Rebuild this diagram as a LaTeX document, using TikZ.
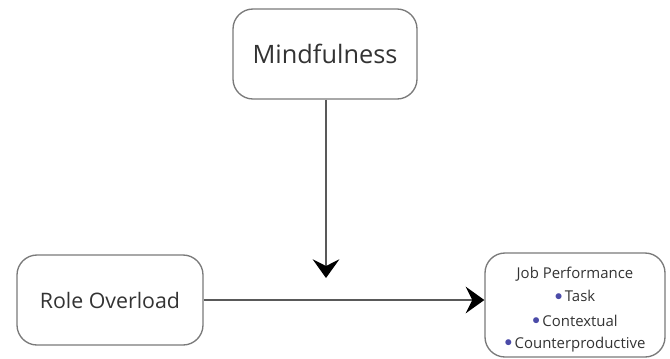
\documentclass[tikz,border=0pt]{standalone}
\usepackage{fontspec}
\setmainfont{Open Sans}
\usetikzlibrary{arrows.meta}

\definecolor{boxgray}{HTML}{7A7A7A}
\definecolor{dotblue}{HTML}{4B4BA8}
\newcommand{\dotitem}{{\color{dotblue}\raisebox{0.12em}{\scalebox{1.05}{$\bullet$}}}\,}

\begin{document}
\begin{tikzpicture}[x=0.75pt, y=-0.75pt]
  \tikzset{
    factor/.style={draw=boxgray, line width=1pt, rounded corners=15pt, align=center,
      text=black!80, inner sep=0pt},
    link/.style={draw=black!65, line width=1.3pt,
      -{Stealth[length=14pt, width=20pt, inset=5pt, black]}}
  }
  \useasboundingbox (0,0) rectangle (670,358);

  \node[factor, minimum width=138pt, minimum height=67.5pt, font=\fontsize{19}{22}\selectfont]
    (mind) at (325,54) {Mindfulness};
  \node[factor, minimum width=139.5pt, minimum height=67.5pt, font=\fontsize{16}{18}\selectfont]
    (role) at (110,300) {Role Overload};
  \node[factor, minimum width=135pt, minimum height=78pt] (job) at (575,305) {};
  \node[align=center, text=black!80, inner sep=0pt, font=\fontsize{11.2}{17.5}\selectfont]
    (jobtext) at ([yshift=-3.5pt]job.center)
    {Job Performance\\ \dotitem Task\\[1pt] \dotitem Contextual\\[-1pt] \dotitem Counterproductive};

  \coordinate (meet) at (326,278);

  % moderator and main path
  \draw[link] (mind.south -| meet) -- (meet);
  \draw[link] (role.east) -- (role.east -| job.west);

\end{tikzpicture}
\end{document}
